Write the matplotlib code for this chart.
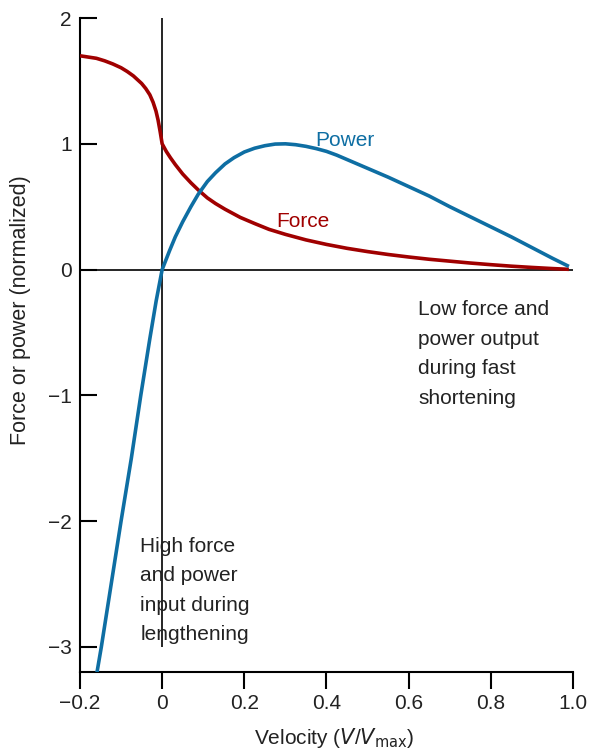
import matplotlib
matplotlib.use("Agg")
import matplotlib.pyplot as plt

plt.rcParams['font.family'] = ['Liberation Sans', 'DejaVu Sans']

# relative velocity V/Vmax and normalized force / power
force_v = [-0.2, -0.18, -0.16, -0.14, -0.12, -0.1, -0.085, -0.07, -0.06, -0.05,
           -0.04, -0.03, -0.022, -0.015, -0.01, -0.005, 0.0, 0.01, 0.02, 0.032,
           0.05, 0.07, 0.088, 0.11, 0.13, 0.153, 0.19, 0.226, 0.26, 0.3, 0.35,
           0.4, 0.45, 0.5, 0.55, 0.6, 0.65, 0.7, 0.75, 0.8, 0.85, 0.9, 0.95, 0.99]
force = [1.70, 1.69, 1.68, 1.66, 1.635, 1.605, 1.575, 1.54, 1.51, 1.48,
         1.44, 1.39, 1.33, 1.26, 1.19, 1.10, 1.0, 0.94, 0.89, 0.835,
         0.76, 0.69, 0.633, 0.57, 0.525, 0.48, 0.415, 0.365, 0.32, 0.28, 0.236,
         0.20, 0.169, 0.143, 0.12, 0.10, 0.082, 0.067, 0.052, 0.039, 0.027, 0.017,
         0.008, 0.002]

power_v = [-0.159, -0.148, -0.124, -0.1, -0.075, -0.052, -0.03, -0.0146, 0.0, 0.018,
           0.032, 0.05, 0.07, 0.088, 0.11, 0.13, 0.153, 0.175, 0.2, 0.225, 0.25,
           0.275, 0.3, 0.325, 0.35, 0.375, 0.4, 0.425, 0.45, 0.475, 0.5, 0.55,
           0.6, 0.65, 0.7, 0.75, 0.8, 0.85, 0.9, 0.95, 0.99]
power = [-3.21, -3.0, -2.5, -2.0, -1.5, -1.0, -0.55, -0.25, 0.0, 0.15,
         0.26, 0.38, 0.50, 0.60, 0.70, 0.77, 0.84, 0.89, 0.935, 0.965, 0.985,
         0.998, 1.0, 0.993, 0.98, 0.962, 0.94, 0.91, 0.875, 0.84, 0.805, 0.735,
         0.66, 0.585, 0.50, 0.42, 0.34, 0.26, 0.175, 0.09, 0.025]

xticks = [-0.2, 0, 0.2, 0.4, 0.6, 0.8, 1.0]
xtick_labels = ['\u22120.2', '0', '0.2', '0.4', '0.6', '0.8', '1.0']
yticks = [-3, -2, -1, 0, 1, 2]
ytick_labels = ['\u22123', '\u22122', '\u22121', '0', '1', '2']

red = '#a00000'
blue = '#0e6ea3'
ink = '#222222'

fig = plt.figure(figsize=(5.89, 7.53), dpi=100)
ax = fig.add_axes([0.1358, 0.1076, 0.837, 0.8684])

ax.axhline(0, color='black', lw=1.2, zorder=1)
ax.vlines(0, -3, 2, color='black', lw=1.2, zorder=1)

ax.plot(force_v, force, color=red, lw=2.6, solid_capstyle='butt',
        solid_joinstyle='round', zorder=3)
ax.plot(power_v, power, color=blue, lw=2.6, solid_capstyle='butt',
        solid_joinstyle='round', zorder=3)

ax.set_xlim(-0.2, 1.0)
ax.set_ylim(-3.2, 2.0)

for side in ['top', 'right']:
    ax.spines[side].set_visible(False)
for side in ['left', 'bottom']:
    ax.spines[side].set_linewidth(1.5)

ax.set_xticks(xticks)
ax.set_xticklabels(xtick_labels)
ax.set_yticks(yticks)
ax.set_yticklabels(ytick_labels)
ax.tick_params(axis='y', direction='in', length=12, width=1.5, labelsize=15,
               labelcolor=ink, pad=6)
ax.tick_params(axis='x', direction='out', length=12, width=1.5, labelsize=15,
               labelcolor=ink, pad=4)

ax.set_xlabel('Velocity ($V$/$V_{\\mathrm{max}}$)', fontsize=15, color=ink)
ax.set_ylabel('Force or power (normalized)', fontsize=15.5, color=ink)
ax.xaxis.set_label_coords(0.516, -0.083)
ax.yaxis.set_label_coords(-0.099, 0.553)

ax.text(0.372, 0.98, 'Power', color=blue, fontsize=15, ha='left', va='baseline')
ax.text(0.277, 0.34, 'Force', color=red, fontsize=15, ha='left', va='baseline')

ax.text(0.623, -0.245, 'Low force and\npower output\nduring fast\nshortening',
        fontsize=15, color=ink, ha='left', va='top', linespacing=1.7)
ax.text(-0.0535, -2.125, 'High force\nand power\ninput during\nlengthening',
        fontsize=15, color=ink, ha='left', va='top', linespacing=1.7)

fig.savefig('out.png', dpi=100)
